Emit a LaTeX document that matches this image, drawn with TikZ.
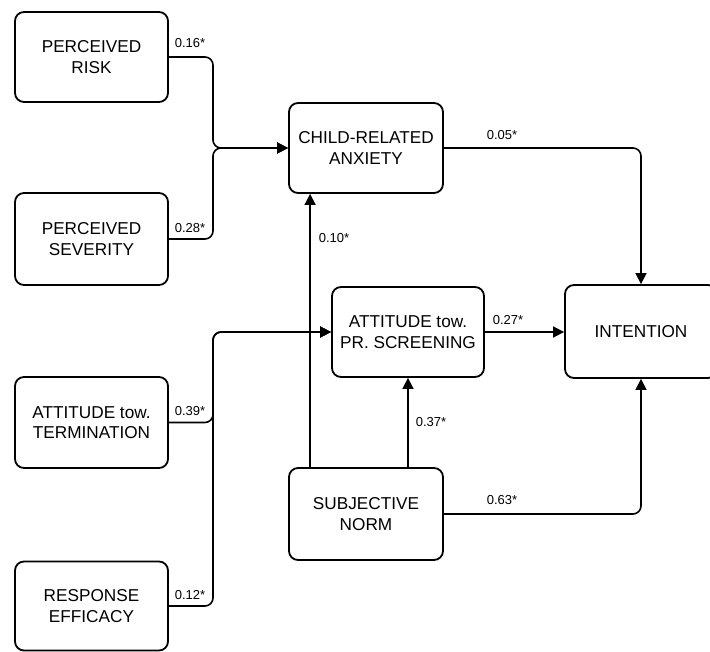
\documentclass[tikz,border=0pt]{standalone}
\usepackage{fontspec}
\setmainfont{Liberation Sans}
\usetikzlibrary{arrows.meta}
\begin{document}
\begin{tikzpicture}[x=1pt,y=-1pt,
  box/.style={draw, line width=1.8pt, rounded corners=9pt, align=center,
    font=\fontsize{17.2}{20.5}\selectfont, inner sep=0pt},
  link/.style={line width=1.6pt, rounded corners=8pt},
  arr/.style={link, -{Triangle[length=11pt,width=11pt]}},
  coef/.style={font=\fontsize{13}{15}\selectfont, inner sep=0pt}]
\useasboundingbox (0,0) rectangle (710,652);
\clip (0,0) rectangle (710,652);
\fill[white] (0,0) rectangle (710,652);

% constructs
\node[box, minimum width=153pt, minimum height=90pt] (risk) at (91.5,57) {PERCEIVED\\RISK};
\node[box, minimum width=153pt, minimum height=92pt] (sev) at (91.5,239) {PERCEIVED\\SEVERITY};
\node[box, minimum width=153pt, minimum height=91pt] (term) at (91.5,422.5) {ATTITUDE tow.\\TERMINATION};
\node[box, minimum width=153pt, minimum height=89pt] (eff) at (91.5,606) {RESPONSE\\EFFICACY};
\node[box, minimum width=154pt, minimum height=90pt] (child) at (366,148) {CHILD-RELATED\\ANXIETY};
\node[box, minimum width=152pt, minimum height=90pt] (att) at (408,332) {ATTITUDE tow.\\PR. SCREENING};
\node[box, minimum width=154pt, minimum height=92pt] (sn) at (366,514) {SUBJECTIVE\\NORM};
\node[box, minimum width=152pt, minimum height=93pt] (intent) at (641,331.5) {INTENTION};

% junction points of the merged paths
\coordinate (j1) at (213,148);
\coordinate (j2) at (213,332);

% paths
\draw[arr] (risk.east) -| (j1) -- (child.west);
\draw[arr] (sev.east) -| (j1) -- (child.west);
\draw[arr] (term.east) -| (j2) -- (att.west);
\draw[arr] (eff.east) -| (j2) -- (att.west);
\draw[arr] (child.east) -| (intent.north);
\draw[arr] (att.east) -- (att.east -| intent.west);
\draw[arr] ([xshift=22pt]sn.north west) -- ([xshift=22pt]child.south west);
\draw[arr] (sn.north -| att.south) -- (att.south);
\draw[arr] (sn.east) -| (intent.south);

% path coefficients
\node[coef] (c1) at (190,43) {0.16*};
\node[coef] (c2) at (190,228) {0.28*};
\node[coef] (c3) at (190,411) {0.39*};
\node[coef] (c4) at (190,595) {0.12*};
\node[coef] (c5) at (334,238) {0.10*};
\node[coef] (c6) at (502,135) {0.05*};
\node[coef] (c7) at (508,320) {0.27*};
\node[coef] (c8) at (431,422) {0.37*};
\node[coef] (c9) at (502,500) {0.63*};
\end{tikzpicture}
\end{document}
